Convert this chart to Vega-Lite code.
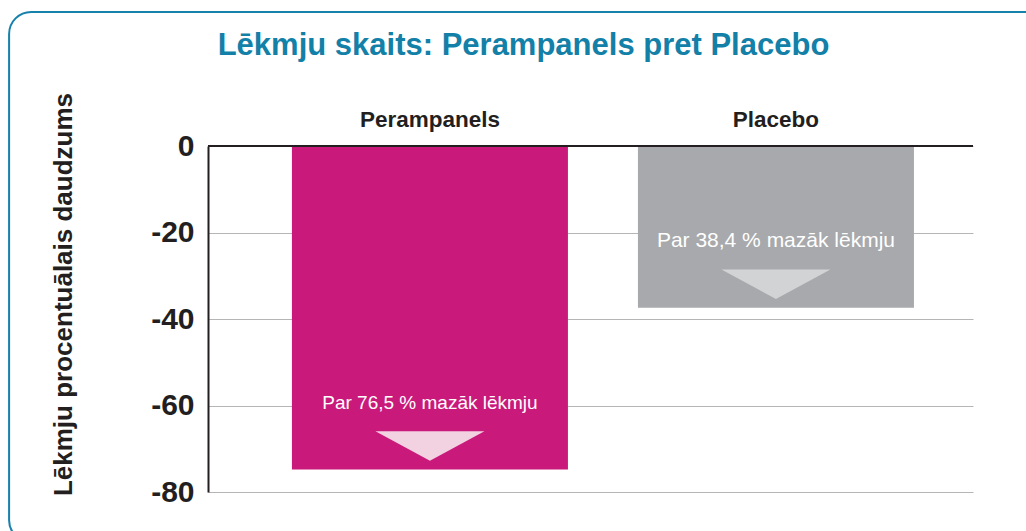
{
  "$schema": "https://vega.github.io/schema/vega-lite/v6.json",
  "autosize": "none",
  "width": 765,
  "height": 346,
  "padding": {"left": 208, "top": 146, "right": 53, "bottom": 39},
  "background": "white",
  "title": {
    "text": "Lēkmju skaits: Perampanels pret Placebo",
    "font": "Liberation Sans",
    "fontSize": 31,
    "fontWeight": "bold",
    "color": "#1380A8",
    "anchor": "middle",
    "dx": -67,
    "offset": -51
  },
  "config": {
    "view": {"stroke": null},
    "font": "Liberation Sans"
  },
  "data": {
    "values": [
      {"grupa": "Perampanels", "vertiba": -74.8, "teksts": "Par 76,5 % mazāk lēkmju"},
      {"grupa": "Placebo", "vertiba": -37.4, "teksts": "Par 38,4 % mazāk lēkmju"}
    ]
  },
  "resolve": {"scale": {"x": "independent"}},
  "layer": [
    {
      "data": {"values": [{"ramis": 1}]},
      "mark": {"type": "rect", "filled": false, "fill": null, "stroke": "#1681AB", "strokeWidth": 2, "cornerRadius": 22},
      "encoding": {
        "x": {"datum": -0.26, "type": "quantitative", "scale": {"domain": [0, 1], "nice": false, "zero": false}, "axis": null},
        "x2": {"datum": 1.097},
        "y": {"datum": 31.0, "type": "quantitative"},
        "y2": {"datum": -91.6}
      }
    },
    {
      "layer": [
        {
          "mark": {"type": "bar"},
          "encoding": {
            "x": {
              "field": "grupa", "type": "nominal", "sort": null,
              "scale": {"paddingInner": 0.2023, "paddingOuter": 0.2066, "align": 0.587},
              "axis": {
                "orient": "top", "title": null, "domain": false, "ticks": false, "tickSize": 0,
                "labelAngle": 0, "labelFont": "Liberation Sans", "labelFontSize": 22.5, "labelFontWeight": "bold",
                "labelColor": "#231F20", "labelPadding": 15
              }
            },
            "y": {
              "field": "vertiba", "type": "quantitative",
              "scale": {"domain": [-80, 0], "nice": false},
              "axis": {
                "values": [0, -20, -40, -60, -80],
                "labelExpr": "replace(datum.label, '\u2212', '-')",
                "title": "Lēkmju procentuālais daudzums",
                "titleFont": "Liberation Sans", "titleFontSize": 26, "titleFontWeight": "bold", "titleColor": "#231F20",
                "titleX": -145, "titleY": 148, "titleAngle": -90, "titleAlign": "center", "titleBaseline": "middle",
                "labelFont": "Liberation Sans", "labelFontSize": 30, "labelFontWeight": "bold", "labelColor": "#231F20",
                "labelPadding": 14, "ticks": false, "tickSize": 0,
                "domainColor": "#231F20", "domainWidth": 2,
                "grid": true, "gridColor": "#B5B5B5", "gridWidth": 1
              }
            },
            "color": {
              "field": "grupa", "type": "nominal",
              "scale": {"domain": ["Perampanels", "Placebo"], "range": ["#C9197B", "#A7A9AC"]},
              "legend": null
            }
          }
        },
        {
          "mark": {"type": "text", "color": "white", "font": "Liberation Sans", "baseline": "alphabetic", "dy": -61},
          "encoding": {
            "x": {"field": "grupa", "type": "nominal", "sort": null},
            "y": {"field": "vertiba", "type": "quantitative"},
            "text": {"field": "teksts"},
            "size": {
              "field": "grupa", "type": "nominal",
              "scale": {"domain": ["Perampanels", "Placebo"], "range": [19, 21]},
              "legend": null
            }
          }
        },
        {
          "mark": {"type": "point", "filled": true, "opacity": 1, "strokeWidth": 0, "shape": "M-1,-0.27L1,-0.27L0,0.27Z", "size": 11881, "yOffset": -23.5},
          "encoding": {
            "x": {"field": "grupa", "type": "nominal", "sort": null},
            "y": {"field": "vertiba", "type": "quantitative"},
            "fill": {
              "field": "grupa", "type": "nominal",
              "scale": {"domain": ["Perampanels", "Placebo"], "range": ["#F2D1E1", "#D2D3D5"]},
              "legend": null
            }
          }
        },
        {
          "mark": {"type": "rule", "color": "#231F20", "strokeWidth": 2},
          "encoding": {"y": {"datum": 0}}
        }
      ]
    }
  ]
}
